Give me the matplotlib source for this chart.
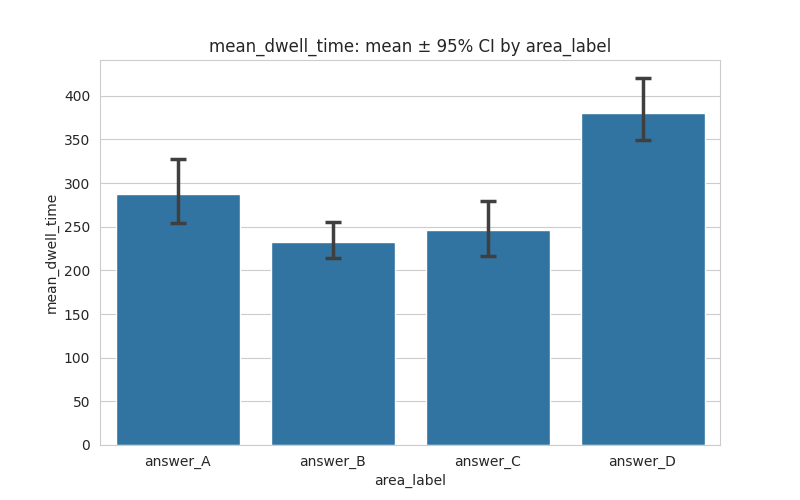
import matplotlib
matplotlib.use("Agg")
import matplotlib.pyplot as plt
import seaborn as sns

categories = ["answer_A", "answer_B", "answer_C", "answer_D"]
means = [287, 232, 246, 380]
ci_low = [254, 214, 216, 349]
ci_high = [328, 255, 279, 420]

sns.set_style("whitegrid")
fig, ax = plt.subplots(figsize=(8, 5), dpi=100)
x = range(len(categories))
ax.bar(x, means, width=0.8, color="#3274a1", zorder=2)
yerr = [[m - l for m, l in zip(means, ci_low)], [h - m for m, h in zip(means, ci_high)]]
ax.errorbar(x, means, yerr=yerr, fmt="none", ecolor="#3f3f3f", elinewidth=2.5,
            capsize=6, capthick=2.5, zorder=3)
ax.set_xticks(list(x))
ax.set_xticklabels(categories)
ax.set_xlim(-0.5, len(categories) - 0.5)
ax.set_ylim(0, 441)
ax.set_xlabel("area_label")
ax.set_ylabel("mean_dwell_time")
ax.set_title("mean_dwell_time: mean ± 95% CI by area_label")
ax.grid(axis="x", visible=False)
fig.savefig("out.png")
